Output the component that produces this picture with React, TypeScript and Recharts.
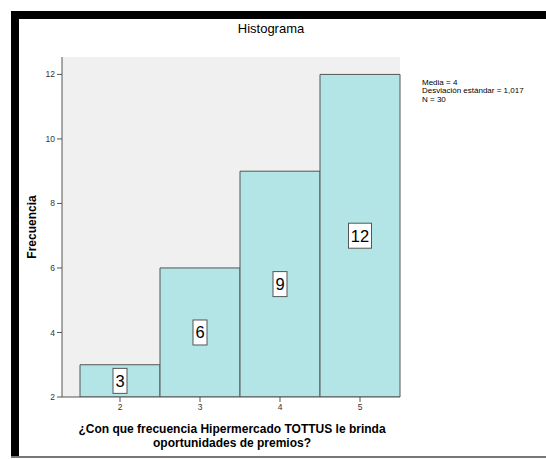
import React from "react";
import { BarChart, Bar, XAxis, YAxis, CartesianGrid, LabelList } from "recharts";

const categories = [2, 3, 4, 5];
const frequencies = [3, 6, 9, 12];
const yTicks = [2, 4, 6, 8, 10, 12];
const title = "Histograma";
const statsLines = ["Media = 4", "Desviación estándar = 1,017", "N = 30"];
const yLabel = "Frecuencia";
const xLabelLines = ["¿Con que frecuencia Hipermercado TOTTUS le brinda", "oportunidades de premios?"];

const data = categories.map((c, i) => ({ x: String(c), freq: frequencies[i] }));

const FONT = "'Liberation Sans', Arial, sans-serif";

const BoxLabel = (props: any) => {
  const { x, y, width, height, value } = props;
  const cx = x + width / 2;
  const cy = y + height / 2;
  const s = String(value);
  const w = s.length === 1 ? 14 : 23;
  const h = 25;
  return (
    <g>
      <rect x={cx - w / 2} y={cy - h / 2} width={w} height={h} fill="#ffffff" stroke="#555" strokeWidth={1} />
      <text x={cx} y={cy + 6} textAnchor="middle" fontSize={16.5} fontFamily={FONT} fill="#000">
        {s}
      </text>
    </g>
  );
};

export default function App() {
  return (
    <div style={{ position: "absolute", left: 0, top: 0, width: 546, height: 459, background: "#fff", overflow: "hidden" }}>
      <div style={{ position: "absolute", left: 11, top: 11, width: 535, height: 8, background: "#000" }} />
      <div style={{ position: "absolute", left: 11, top: 11, width: 8, height: 446, background: "#000" }} />
      <div style={{ position: "absolute", left: 11, top: 456, width: 535, height: 2, background: "#777" }} />
      <div style={{ position: "absolute", left: 0, top: 0 }}>
        <BarChart
          width={546}
          height={459}
          data={data}
          margin={{ top: 57, right: 146, bottom: 32, left: 22 }}
          barCategoryGap={0}
          barGap={0}
        >
          <CartesianGrid fill="#f0f0f0" horizontal={false} vertical={false} />
          <XAxis
            xAxisId="b"
            dataKey="x"
            type="category"
            padding={{ left: 18, right: 0 }}
            height={30}
            tickSize={5}
            stroke="#555"
            tick={{ fontSize: 8.5, fill: "#333", fontFamily: FONT }}
          />
          <XAxis xAxisId="t" orientation="top" dataKey="x" type="category" tick={false} tickLine={false} height={0} stroke="#888" />
          <YAxis
            yAxisId="l"
            type="number"
            domain={[2, 12.54]}
            allowDataOverflow
            ticks={yTicks}
            width={40}
            tickSize={5}
            stroke="#555"
            tick={{ fontSize: 8.5, fill: "#333", fontFamily: FONT }}
          />
          <YAxis yAxisId="r" orientation="right" type="number" domain={[2, 12.54]} allowDataOverflow tick={false} tickLine={false} width={0} stroke="#888" />
          <Bar
            dataKey="freq"
            xAxisId="b"
            yAxisId="l"
            fill="#b3e5e6"
            stroke="#555"
            strokeWidth={1}
            isAnimationActive={false}
          >
            <LabelList dataKey="freq" content={BoxLabel} />
          </Bar>
          <text x={271} y={33} textAnchor="middle" fontSize={13} fontFamily={FONT} fill="#000">
            {title}
          </text>
          {statsLines.map((s, i) => (
            <text key={i} x={422} y={85 + i * 8.4} fontSize={8} fontFamily={FONT} fill="#000">
              {s}
            </text>
          ))}
          <text
            x={0}
            y={0}
            transform="translate(36,227) rotate(-90)"
            textAnchor="middle"
            fontSize={12}
            fontWeight="bold"
            fontFamily={FONT}
            fill="#000"
          >
            {yLabel}
          </text>
          {xLabelLines.map((s, i) => (
            <text key={i} x={232} y={433 + i * 13.5} textAnchor="middle" fontSize={12} fontWeight="bold" fontFamily={FONT} fill="#000">
              {s}
            </text>
          ))}
        </BarChart>
      </div>
    </div>
  );
}
